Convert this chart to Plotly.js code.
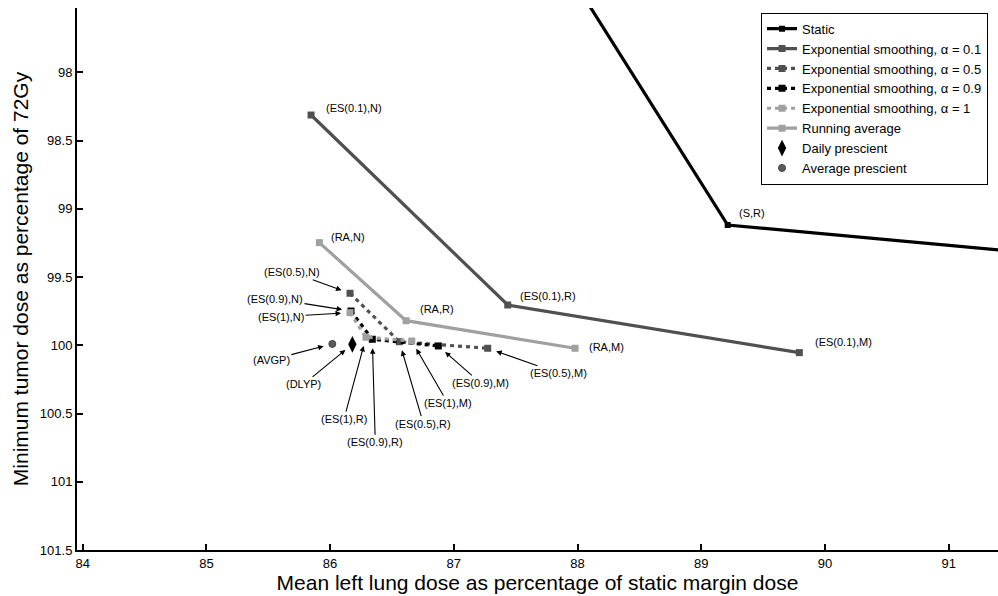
<!DOCTYPE html>
<html>
<head>
<meta charset="utf-8">
<script src="https://cdn.plot.ly/plotly-3.0.1.min.js"></script>
<style>html,body{margin:0;padding:0;background:#fff;}#chart{width:998px;height:596px;}</style>
</head>
<body>
<div id="chart"></div>
<script>
// ---- data ----
const seriesNames = ["Static", "Exponential smoothing, \u03b1 = 0.1", "Exponential smoothing, \u03b1 = 0.5",
  "Exponential smoothing, \u03b1 = 0.9", "Exponential smoothing, \u03b1 = 1", "Running average",
  "Daily prescient", "Average prescient"];
const staticX = [87.74, 89.214, 92.5];
const staticY = [97.0, 99.119, 99.394];
const es01X = [85.846, 87.436, 89.793];
const es01Y = [98.313, 99.705, 100.054];
const es05X = [86.161, 86.560, 87.274];
const es05Y = [99.619, 99.974, 100.022];
const es09X = [86.169, 86.341, 86.875];
const es09Y = [99.749, 99.956, 100.005];
const es1X = [86.161, 86.290, 86.660];
const es1Y = [99.761, 99.941, 99.969];
const raX = [85.913, 86.614, 87.980];
const raY = [99.248, 99.820, 100.022];
const dlypX = [86.180];
const dlypY = [99.993];
const avgpX = [86.018];
const avgpY = [99.99];
const xTicks = [84, 85, 86, 87, 88, 89, 90, 91];
const yTicks = [98, 98.5, 99, 99.5, 100, 100.5, 101, 101.5];

// point labels: [text, x array, y array, index]
const plainLabels = [
  ["(S,R)", staticX, staticY, 1],
  ["(ES(0.1),N)", es01X, es01Y, 0],
  ["(ES(0.1),R)", es01X, es01Y, 1],
  ["(ES(0.1),M)", es01X, es01Y, 2],
  ["(RA,N)", raX, raY, 0],
  ["(RA,R)", raX, raY, 1],
  ["(RA,M)", raX, raY, 2]
];
const arrowLabels = [
  ["(ES(0.5),N)", es05X, es05Y, 0],
  ["(ES(0.9),N)", es09X, es09Y, 0],
  ["(ES(1),N)", es1X, es1Y, 0],
  ["(AVGP)", avgpX, avgpY, 0],
  ["(DLYP)", dlypX, dlypY, 0],
  ["(ES(1),R)", es1X, es1Y, 1],
  ["(ES(0.9),R)", es09X, es09Y, 1],
  ["(ES(0.5),R)", es05X, es05Y, 1],
  ["(ES(1),M)", es1X, es1Y, 2],
  ["(ES(0.9),M)", es09X, es09Y, 2],
  ["(ES(0.5),M)", es05X, es05Y, 2]
];

// ---- styling / placement ----
const plainShift = {
  "(S,R)": [9, 12], "(ES(0.1),N)": [13, 7], "(ES(0.1),R)": [10, 9], "(ES(0.1),M)": [14, 11],
  "(RA,N)": [10, 6], "(RA,R)": [12, 12], "(RA,M)": [12, 1]
};
const arrowOffset = {
  "(ES(0.5),N)": [-58, -21], "(ES(0.9),N)": [-76, -12], "(ES(1),N)": [-69, 4],
  "(AVGP)": [-61, 16], "(DLYP)": [-49, 40], "(ES(1),R)": [-22, 82], "(ES(0.9),R)": [3, 103],
  "(ES(0.5),R)": [24, 82], "(ES(1),M)": [36, 62], "(ES(0.9),M)": [42, 37], "(ES(0.5),M)": [71, 25]
};
const DARK = "#505050", LIGHT = "#a0a0a0";
const DASH = "4px,4px";

function lineTrace(x, y, name, color, dash, msize) {
  return {x: x, y: y, name: name, type: "scatter", mode: "lines+markers",
    line: {color: color, width: 3.2, dash: dash},
    marker: {symbol: "square", size: msize, color: color}, cliponaxis: true};
}
const traces = [
  lineTrace(staticX, staticY, seriesNames[0], "#000000", "solid", 6),
  lineTrace(es01X, es01Y, seriesNames[1], DARK, "solid", 7),
  lineTrace(es05X, es05Y, seriesNames[2], DARK, DASH, 7),
  lineTrace(es09X, es09Y, seriesNames[3], "#000000", DASH, 7),
  lineTrace(es1X, es1Y, seriesNames[4], LIGHT, DASH, 7),
  lineTrace(raX, raY, seriesNames[5], LIGHT, "solid", 7),
  {x: dlypX, y: dlypY, name: seriesNames[6], type: "scatter", mode: "markers",
    marker: {symbol: "diamond-tall", size: 12, color: "#000000"}},
  {x: avgpX, y: avgpY, name: seriesNames[7], type: "scatter", mode: "markers",
    marker: {symbol: "circle", size: 7, color: "#5a5a5a", line: {color: "#444", width: 1}}}
];

const annFont = {family: "Liberation Sans, Arial, sans-serif", size: 11, color: "#000"};
const annotations = [];
plainLabels.forEach(function (l) {
  const s = plainShift[l[0]];
  annotations.push({x: l[1][l[3]], y: l[2][l[3]], xref: "x", yref: "y", text: l[0],
    showarrow: false, xanchor: "left", yanchor: "middle", xshift: s[0], yshift: s[1], font: annFont});
});
arrowLabels.forEach(function (l) {
  const o = arrowOffset[l[0]];
  annotations.push({x: l[1][l[3]], y: l[2][l[3]], xref: "x", yref: "y", text: l[0],
    showarrow: true, ax: o[0], ay: o[1], arrowhead: 2, arrowsize: 1, arrowwidth: 1.1,
    arrowcolor: "#000", standoff: 9, font: annFont});
});

const FONT = "Liberation Sans, Arial, sans-serif";
const layout = {
  width: 998, height: 596,
  margin: {l: 77, r: 0, t: 8, b: 46, autoexpand: false},
  paper_bgcolor: "#fff", plot_bgcolor: "#fff",
  font: {family: FONT, color: "#000"},
  showlegend: true,
  legend: {x: 0.7427, y: 0.9913, xanchor: "left", yanchor: "top",
    bgcolor: "#fff", bordercolor: "#000", borderwidth: 1,
    font: {family: FONT, size: 13, color: "#000"}},
  xaxis: {range: [83.954, 91.399], tickvals: xTicks, ticktext: xTicks.map(String),
    ticks: "inside", ticklen: 6, tickwidth: 2, tickcolor: "#000",
    showline: true, linecolor: "#000", linewidth: 2, mirror: false,
    showgrid: false, zeroline: false,
    tickfont: {family: FONT, size: 13, color: "#000"},
    title: {text: "Mean left lung dose as percentage of static margin dose",
      font: {family: FONT, size: 21, color: "#000"}, standoff: 1}},
  yaxis: {range: [101.5, 97.529], tickvals: yTicks, ticktext: yTicks.map(String),
    ticks: "inside", ticklen: 6, tickwidth: 2, tickcolor: "#000",
    showline: true, linecolor: "#000", linewidth: 2, mirror: false,
    showgrid: false, zeroline: false,
    tickfont: {family: FONT, size: 13, color: "#000"},
    title: {text: "Minimum tumor dose as percentage of 72Gy",
      font: {family: FONT, size: 21, color: "#000"}, standoff: 6}},
  annotations: annotations
};
Plotly.newPlot("chart", traces, layout, {displayModeBar: false, staticPlot: true});
</script>
</body>
</html>
